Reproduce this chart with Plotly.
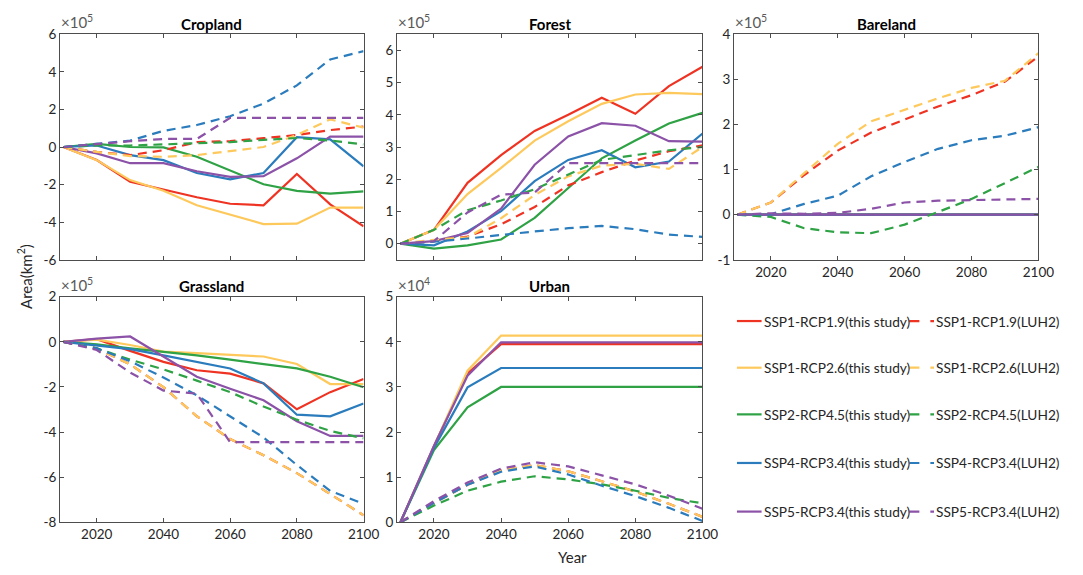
import plotly.graph_objects as go

# ---------------- data ----------------
years = [2010, 2020, 2030, 2040, 2050, 2060, 2070, 2080, 2090, 2100]
scenarios = ["SSP1-RCP1.9", "SSP1-RCP2.6", "SSP2-RCP4.5", "SSP4-RCP3.4", "SSP5-RCP3.4"]

# Cropland (x1e5 km2)
crop_study = [
    [0, -0.69, -1.85, -2.28, -2.67, -3.02, -3.10, -1.43, -3.05, -4.22],
    [0, -0.70, -1.76, -2.33, -3.10, -3.62, -4.10, -4.08, -3.22, -3.22],
    [0, 0.17, 0.00, -0.02, -0.52, -1.26, -1.98, -2.33, -2.48, -2.36],
    [0, 0.08, -0.43, -0.70, -1.38, -1.72, -1.38, 0.52, 0.41, -1.03],
    [0, -0.34, -0.86, -0.86, -1.29, -1.59, -1.55, -0.60, 0.55, 0.55],
]
crop_luh2 = [
    [0, -0.26, -0.43, -0.17, 0.26, 0.31, 0.47, 0.64, 0.90, 1.09],
    [0, -0.26, -0.48, -0.52, -0.43, -0.21, 0.00, 0.64, 1.47, 1.03],
    [0, 0.08, 0.08, 0.14, 0.22, 0.26, 0.38, 0.48, 0.34, 0.14],
    [0, 0.17, 0.34, 0.86, 1.17, 1.64, 2.31, 3.28, 4.66, 5.10],
    [0, 0.17, 0.31, 0.43, 0.43, 1.55, 1.55, 1.55, 1.55, 1.55],
]
# Forest (x1e5 km2)
forest_study = [
    [0, 0.43, 1.89, 2.75, 3.50, 4.00, 4.53, 4.03, 4.89, 5.49],
    [0, 0.43, 1.54, 2.35, 3.20, 3.80, 4.34, 4.63, 4.68, 4.64],
    [0, -0.15, -0.05, 0.13, 0.80, 1.74, 2.65, 3.20, 3.73, 4.06],
    [0, -0.05, 0.38, 1.01, 1.94, 2.60, 2.90, 2.37, 2.55, 3.42],
    [0, 0.08, 0.33, 1.09, 2.45, 3.33, 3.74, 3.66, 3.18, 3.17],
]
forest_luh2 = [
    [0, 0.08, 0.22, 0.60, 1.14, 1.81, 2.22, 2.58, 2.87, 3.05],
    [0, 0.12, 0.20, 0.79, 1.51, 2.09, 2.42, 2.48, 2.32, 3.00],
    [0, 0.43, 1.04, 1.34, 1.69, 2.15, 2.60, 2.75, 2.90, 3.00],
    [0, 0.06, 0.16, 0.28, 0.38, 0.48, 0.55, 0.45, 0.28, 0.21],
    [0, 0.08, 0.97, 1.52, 1.59, 2.50, 2.50, 2.50, 2.50, 2.50],
]
# Bareland (x1e5 km2)
bare_study = [
    [0, 0, 0, 0, 0, 0, 0, 0, 0, 0],
    [0, 0, 0, 0, 0, 0, 0, 0, 0, 0],
    [0, 0, 0, 0, 0, 0, 0, 0, 0, 0],
    [0, 0, 0, 0, 0, 0, 0, 0, 0, 0],
    [0, 0, 0, 0, 0, 0, 0, 0, 0, 0],
]
bare_luh2 = [
    [0, 0.27, 0.88, 1.42, 1.82, 2.11, 2.40, 2.65, 2.95, 3.51],
    [0, 0.27, 0.92, 1.57, 2.07, 2.32, 2.58, 2.81, 2.97, 3.58],
    [0, -0.05, -0.30, -0.39, -0.41, -0.22, 0.06, 0.35, 0.70, 1.06],
    [0, 0.01, 0.24, 0.42, 0.85, 1.17, 1.46, 1.65, 1.75, 1.94],
    [0, 0.03, 0.02, 0.04, 0.13, 0.27, 0.31, 0.32, 0.33, 0.35],
]
# Grassland (x1e5 km2)
grass_study = [
    [0, 0.12, -0.40, -0.89, -1.26, -1.41, -1.84, -2.99, -2.23, -1.65],
    [0, 0.10, -0.14, -0.43, -0.50, -0.57, -0.65, -0.98, -1.87, -1.87],
    [0, -0.11, -0.29, -0.43, -0.60, -0.79, -0.98, -1.18, -1.55, -2.01],
    [0, -0.17, -0.32, -0.60, -0.89, -1.18, -1.84, -3.23, -3.30, -2.73],
    [0, 0.14, 0.24, -0.65, -1.55, -2.08, -2.59, -3.52, -4.17, -4.17],
]
grass_luh2 = [
    [0, -0.29, -1.00, -2.01, -3.30, -4.31, -5.03, -5.82, -6.75, -7.69],
    [0, -0.29, -1.00, -2.01, -3.30, -4.31, -5.03, -5.82, -6.75, -7.69],
    [0, -0.29, -0.79, -1.22, -1.72, -2.23, -2.87, -3.45, -3.95, -4.28],
    [0, -0.29, -0.86, -1.58, -2.37, -3.30, -4.24, -5.46, -6.61, -7.18],
    [0, -0.36, -1.36, -2.16, -2.30, -4.45, -4.45, -4.45, -4.45, -4.45],
]
# Urban (x1e4 km2)
urban_study = [
    [0, 1.68, 3.30, 3.95, 3.95, 3.95, 3.95, 3.95, 3.95, 3.95],
    [0, 1.70, 3.36, 4.14, 4.14, 4.14, 4.14, 4.14, 4.14, 4.14],
    [0, 1.60, 2.55, 3.00, 3.00, 3.00, 3.00, 3.00, 3.00, 3.00],
    [0, 1.65, 2.99, 3.42, 3.42, 3.42, 3.42, 3.42, 3.42, 3.42],
    [0, 1.70, 3.25, 3.99, 3.99, 3.99, 3.99, 3.99, 3.99, 3.99],
]
urban_luh2 = [
    [0, 0.43, 0.83, 1.15, 1.27, 1.13, 0.91, 0.68, 0.41, 0.12],
    [0, 0.43, 0.83, 1.15, 1.27, 1.13, 0.91, 0.68, 0.41, 0.12],
    [0, 0.37, 0.70, 0.90, 1.02, 0.95, 0.84, 0.70, 0.54, 0.42],
    [0, 0.43, 0.83, 1.12, 1.24, 1.06, 0.81, 0.58, 0.32, 0.03],
    [0, 0.47, 0.88, 1.19, 1.33, 1.24, 1.04, 0.84, 0.59, 0.30],
]

panel_titles = ["Cropland", "Forest", "Bareland", "Grassland", "Urban"]
panel_exponents = ["5", "5", "5", "5", "4"]
x_tickvals = [2020, 2040, 2060, 2080, 2100]
y_tickvals = [
    [-6, -4, -2, 0, 2, 4, 6],
    [0, 1, 2, 3, 4, 5, 6],
    [-1, 0, 1, 2, 3, 4],
    [-8, -6, -4, -2, 0, 2],
    [0, 1, 2, 3, 4, 5],
]
y_ranges = [[-6, 6], [-0.5, 6.5], [-1, 4], [-8, 2], [0, 5]]
x_range = [2009, 2100]

study_data = [crop_study, forest_study, bare_study, grass_study, urban_study]
luh2_data = [crop_luh2, forest_luh2, bare_luh2, grass_luh2, urban_luh2]

legend_study = [s + "(this study)" for s in scenarios]
legend_luh2 = [s + "(LUH2)" for s in scenarios]

# ---------------- style / layout ----------------
W, H = 1083, 575
colors = ["#EF3323", "#FEC95C", "#2EA244", "#2B7CBD", "#8B52A8"]
FONT = "Lato"
TXT = "#262626"
AX = "#4d4d4d"

def px(x):
    return x / W

def py(y):
    return 1 - y / H

# pixel boxes (left, right, top, bottom)
boxes = [
    (61, 369, 27, 259),
    (403, 713, 27, 259),
    (745, 1054, 27, 259),
    (61, 369, 297, 529),
    (403, 713, 297, 529),
]
title_y = [16, 16, 16, 286, 286]
show_xlabels = [False, False, True, True, True]

fig = go.Figure()
layout = dict(
    width=W, height=H,
    margin=dict(l=0, r=0, t=0, b=0),
    paper_bgcolor="white", plot_bgcolor="white",
    showlegend=False,
    font=dict(family=FONT, size=13, color=TXT),
)
annotations = []
shapes = []

for i in range(5):
    xa = "x" if i == 0 else f"x{i+1}"
    ya = "y" if i == 0 else f"y{i+1}"
    l, r, t, b = boxes[i]
    layout["xaxis" if i == 0 else f"xaxis{i+1}"] = dict(
        domain=[px(l), px(r)], anchor=ya, range=x_range,
        tickvals=x_tickvals, ticktext=[str(v) for v in x_tickvals],
        showticklabels=show_xlabels[i],
        ticks="inside", ticklen=4, tickcolor=AX, tickwidth=1,
        showline=True, linecolor=AX, linewidth=1, mirror="allticks",
        showgrid=False, zeroline=False,
        tickfont=dict(family=FONT, size=13.5, color=TXT),
    )
    layout["yaxis" if i == 0 else f"yaxis{i+1}"] = dict(
        domain=[py(b), py(t)], anchor=xa, range=y_ranges[i],
        tickvals=y_tickvals[i], ticktext=[str(v) for v in y_tickvals[i]],
        ticks="inside", ticklen=4, tickcolor=AX, tickwidth=1,
        showline=True, linecolor=AX, linewidth=1, mirror="allticks",
        showgrid=False, zeroline=False,
        tickfont=dict(family=FONT, size=13.5, color=TXT),
    )
    for k in range(5):
        fig.add_trace(go.Scatter(
            x=years, y=study_data[i][k], mode="lines",
            line=dict(color=colors[k], width=2.2),
            xaxis=xa, yaxis=ya, name=legend_study[k],
        ))
    for k in range(5):
        fig.add_trace(go.Scatter(
            x=years, y=luh2_data[i][k], mode="lines",
            line=dict(color=colors[k], width=2.2, dash="9px,6px"),
            xaxis=xa, yaxis=ya, name=legend_luh2[k],
        ))
    # title
    annotations.append(dict(
        x=px((l + r) / 2), y=py(title_y[i]), xref="paper", yref="paper",
        text="<b>" + panel_titles[i] + "</b>", showarrow=False,
        font=dict(family=FONT, size=15, color="black"),
        xanchor="center", yanchor="middle",
    ))
    # multiplier
    annotations.append(dict(
        x=px(l - 1), y=py(t - 1), xref="paper", yref="paper",
        text="\u00d710<sup>" + panel_exponents[i] + "</sup>", showarrow=False,
        font=dict(family=FONT, size=15, color="#595959"),
        xanchor="left", yanchor="bottom",
    ))

# axis labels
annotations.append(dict(
    x=px(25), y=py(276), xref="paper", yref="paper",
    text="Area(km<sup>2</sup>)", showarrow=False, textangle=-90,
    font=dict(family=FONT, size=15, color=TXT),
    xanchor="center", yanchor="middle",
))
annotations.append(dict(
    x=px(581), y=py(565), xref="paper", yref="paper",
    text="Year", showarrow=False,
    font=dict(family=FONT, size=15, color=TXT),
    xanchor="center", yanchor="middle",
))

# manual legend
row_y = [322, 370, 418, 468, 518]
for k in range(5):
    yy = py(row_y[k])
    shapes.append(dict(type="line", xref="paper", yref="paper",
                       x0=px(748), x1=px(773), y0=yy, y1=yy,
                       line=dict(color=colors[k], width=2.2)))
    annotations.append(dict(
        x=px(773), y=yy, xref="paper", yref="paper",
        text=legend_study[k], showarrow=False,
        font=dict(family=FONT, size=13.7, color=TXT),
        xanchor="left", yanchor="middle",
    ))
    shapes.append(dict(type="line", xref="paper", yref="paper",
                       x0=px(923), x1=px(948), y0=yy, y1=yy,
                       line=dict(color=colors[k], width=2.2, dash="10px,11px")))
    annotations.append(dict(
        x=px(948), y=yy, xref="paper", yref="paper",
        text=legend_luh2[k], showarrow=False,
        font=dict(family=FONT, size=13.7, color=TXT),
        xanchor="left", yanchor="middle",
    ))

layout["annotations"] = annotations
layout["shapes"] = shapes
fig.update_layout(**layout)
fig.write_html("out.html")
